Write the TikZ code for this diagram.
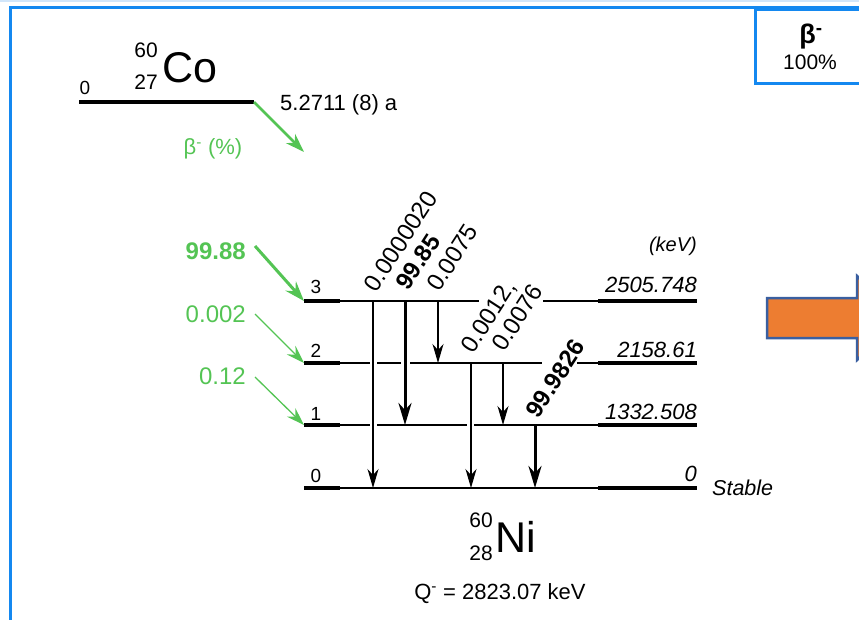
\documentclass[tikz,border=0pt]{standalone}
\usepackage{fontspec}
\setmainfont{Liberation Sans}
\usetikzlibrary{arrows.meta}
\definecolor{frameblue}{RGB}{20,136,240}
\definecolor{lightblue}{RGB}{210,230,250}
\definecolor{grn}{RGB}{84,196,84}
\definecolor{orng}{RGB}{237,125,49}
\definecolor{edgeblue}{RGB}{58,95,160}
\newcommand{\myfs}[1]{\fontsize{#1}{#1}\selectfont}
\begin{document}
\begin{tikzpicture}[x=1pt,y=-1pt,
  thk/.style={line width=4pt},
  thn/.style={line width=2pt},
  trthin/.style={line width=1.3pt,-{Stealth[length=19pt,width=11pt,inset=6pt]}},
  trthick/.style={line width=3pt,-{Stealth[length=22pt,width=13pt,inset=7pt]}},
  gthick/.style={grn,line width=3pt,-{Stealth[length=20pt,width=14pt,inset=7pt]}},
  gthin/.style={grn,line width=1.3pt,-{Stealth[length=18pt,width=12pt,inset=6pt]}},
  txt/.style={inner sep=0pt,font=\myfs{22}},
  rlab/.style={inner sep=0pt,font=\myfs{24},rotate=57,anchor=base west},
  elab/.style={inner sep=0pt,font=\myfs{22}\itshape,anchor=base east},
  nlab/.style={inner sep=0pt,font=\myfs{19},anchor=base},
  glab/.style={inner sep=0pt,font=\myfs{24},text=grn,anchor=base east}
]
\useasboundingbox (0,0) rectangle (859,620);
\clip (0,0) rectangle (859,620);
% frame
\draw[lightblue,line width=2pt] (0,1) -- (859,1);
\draw[frameblue,line width=3pt] (10,640) -- (10,8) -- (880,8);
\node[draw=frameblue,line width=3pt,minimum width=130pt,minimum height=74pt,anchor=north west,inner sep=0pt] (box) at (754,8) {};
\node[txt,font=\myfs{27}\bfseries,anchor=base] (bbeta) at (811,44) {β\textsuperscript{-}};
\node[txt,font=\myfs{21},anchor=base] (bpct) at (810,70) {100\%};
% orange arrow
\draw[edgeblue,line width=2.5pt,fill=orng] (767,298) -- (857,298) -- (857,276) -- (900,318) -- (857,360) -- (857,338) -- (767,338) -- cycle;
% Co
\coordinate (coL) at (79,102);
\coordinate (coR) at (254,102);
\draw[line width=4pt] (coL) -- (coR);
\node[nlab] (co0) at (85,94.5) {0};
\node[txt,font=\myfs{21},anchor=base east] (coA) at (158,57.5) {60};
\node[txt,font=\myfs{21},anchor=base east] (coZ) at (158,89.5) {27};
\node[txt,font=\myfs{43},anchor=base west] (coSym) at (162,82.5) {Co};
\node[txt,anchor=base west] (half) at (280,111) {5.2711 (8) a};
\coordinate (coEnd) at (304,152);
\draw[gthin,line width=2.5pt,-{Stealth[length=19pt,width=13pt,inset=6pt]}] (coR) -- (coEnd);
\node[txt,text=grn,anchor=base] (bm) at (213,155) {β\textsuperscript{-} (\%)};
% levels
\draw[thk] (304,301) -- (340,301);
\draw[thn] (340,301) -- (479,301);
\draw[thn] (543,301) -- (598,301);
\draw[thk] (598,301) -- (697,301);
\draw[thk] (304,363) -- (340,363);
\draw[thn] (340,363) -- (370,363);
\draw[thn] (377,363) -- (401,363);
\draw[thn] (410,363) -- (542,363);
\draw[thn] (577,363) -- (598,363);
\draw[thk] (598,363) -- (697,363);
\draw[thk] (304,425) -- (340,425);
\draw[thn] (340,425) -- (370,425);
\draw[thn] (377,425) -- (467,425);
\draw[thn] (474,425) -- (598,425);
\draw[thk] (598,425) -- (697,425);
\draw[thk] (304,488) -- (340,488);
\draw[thn] (340,488) -- (598,488);
\draw[thk] (598,488) -- (697,488);
% level numbers
\node[nlab] (n3) at (316,294) {3};
\node[nlab] (n2) at (316,357) {2};
\node[nlab] (n1) at (316,420) {1};
\node[nlab] (n0) at (316,482) {0};
% energies
\node[elab,font=\myfs{20}\itshape] (kev) at (697,252) {(keV)};
\node[elab] (e3) at (697,293) {2505.748};
\node[elab] (e2) at (697,357) {2158.61};
\node[elab] (e1) at (697,419.5) {1332.508};
\node[elab] (e0) at (697,481) {0};
\node[txt,font=\myfs{21.5}\itshape,anchor=base west] (stable) at (712,495) {Stable};
% green feeding
\coordinate (g3s) at (255,246);
\coordinate (g3e) at (304,301);
\coordinate (g2s) at (255,314);
\coordinate (g2e) at (304,363);
\coordinate (g1s) at (255,377);
\coordinate (g1e) at (304,425);
\draw[gthick] (g3s) -- (g3e);
\draw[gthin] (g2s) -- (g2e);
\draw[gthin] (g1s) -- (g1e);
\node[glab,font=\myfs{24}\bfseries] (p3) at (246,259.5) {99.88};
\node[glab] (p2) at (246,322) {0.002};
\node[glab] (p1) at (246,384) {0.12};
% transitions
\coordinate (t30s) at (373,301); \coordinate (t30e) at (373,488);
\coordinate (t31s) at (405,301); \coordinate (t31e) at (405,425);
\coordinate (t32s) at (438,301); \coordinate (t32e) at (438,363);
\coordinate (t20s) at (471,363); \coordinate (t20e) at (471,488);
\coordinate (t21s) at (503,363); \coordinate (t21e) at (503,425);
\coordinate (t10s) at (535,425); \coordinate (t10e) at (535,488);
\draw[trthin] (t30s) -- (t30e);
\draw[trthick] (t31s) -- (t31e);
\draw[trthin] (t32s) -- (t32e);
\draw[trthin] (t20s) -- (t20e);
\draw[trthin] (t21s) -- (t21e);
\draw[trthick] (t10s) -- (t10e);
\node[rlab] (r30) at (376.5,293.5) {0.0000020};
\node[rlab,font=\myfs{24}\bfseries] (r31) at (408.5,291.5) {99.85};
\node[rlab] (r32) at (439,293) {0.0075};
\node[rlab] (r20) at (473,354.5) {0.0012,};
\node[rlab] (r21) at (504,353) {0.0076};
\node[rlab,font=\myfs{24}\bfseries] (r10) at (538.5,419.5) {99.9826};
% Ni
\node[txt,font=\myfs{21},anchor=base east] (niA) at (493,527.5) {60};
\node[txt,font=\myfs{21},anchor=base east] (niZ) at (493,560) {28};
\node[txt,font=\myfs{43},anchor=base west] (niSym) at (495,552) {Ni};
\node[txt,anchor=base] (q) at (500,599) {Q\textsuperscript{-} = 2823.07 keV};
\end{tikzpicture}
\end{document}
